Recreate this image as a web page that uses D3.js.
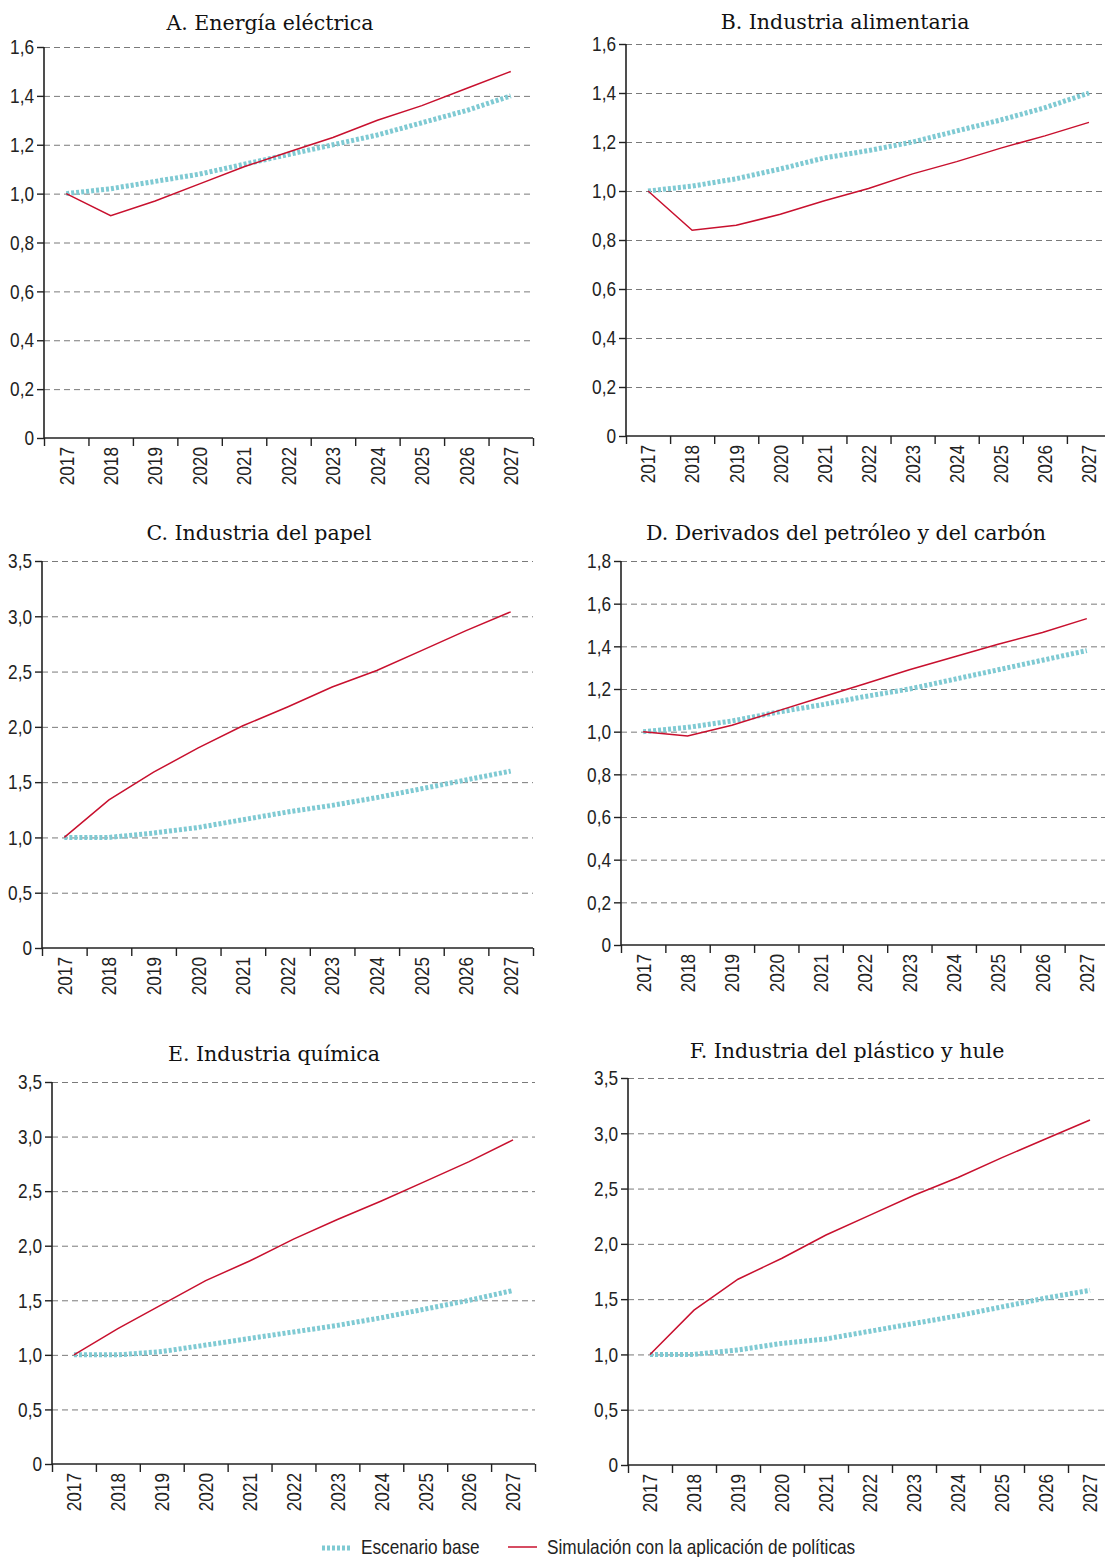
<!DOCTYPE html>
<html>
<head>
<meta charset="utf-8">
<script src="https://cdn.jsdelivr.net/npm/d3@7"></script>
<style>
  body { margin: 0; background: #fff; }
  .tick text { font-family: "Liberation Sans", Arial, sans-serif; font-size: 21px; fill: #222; }
  .title { font-family: "DejaVu Serif", serif; font-size: 20.5px; fill: #111; }
  .legend text { font-family: "Liberation Sans", Arial, sans-serif; font-size: 21px; fill: #222; }
</style>
</head>
<body>
<svg id="chart"></svg>
<script>
const WIDTH = 1105;
const HEIGHT = 1557;
const RED = "#c8102e";
const TEAL = "#7fcad3";
const NARROW = 0.82; // the reference uses a condensed sans

const years = ["2017", "2018", "2019", "2020", "2021", "2022", "2023", "2024", "2025", "2026", "2027"];

const titles = [
    "A. Energía eléctrica",
    "B. Industria alimentaria",
    "C. Industria del papel",
    "D. Derivados del petróleo y del carbón",
    "E. Industria química",
    "F. Industria del plástico y hule"
];

// escenario base
const baseA = [1.00, 1.02, 1.05, 1.08, 1.12, 1.16, 1.20, 1.24, 1.29, 1.34, 1.40];
const baseB = [1.00, 1.02, 1.05, 1.09, 1.135, 1.165, 1.20, 1.245, 1.29, 1.34, 1.40];
const baseC = [1.00, 1.00, 1.04, 1.09, 1.16, 1.23, 1.29, 1.36, 1.44, 1.52, 1.60];
const baseD = [1.00, 1.02, 1.05, 1.09, 1.125, 1.165, 1.20, 1.245, 1.29, 1.335, 1.38];
const baseE = [1.00, 1.00, 1.03, 1.09, 1.15, 1.21, 1.27, 1.34, 1.42, 1.50, 1.59];
const baseF = [1.00, 1.00, 1.04, 1.10, 1.14, 1.21, 1.28, 1.35, 1.43, 1.51, 1.58];

// simulacion con politicas
const simA = [1.00, 0.91, 0.97, 1.04, 1.11, 1.17, 1.23, 1.30, 1.36, 1.43, 1.50];
const simB = [1.00, 0.84, 0.86, 0.905, 0.96, 1.01, 1.07, 1.12, 1.175, 1.225, 1.28];
const simC = [1.00, 1.34, 1.59, 1.81, 2.01, 2.18, 2.36, 2.51, 2.69, 2.87, 3.04];
const simD = [1.00, 0.98, 1.03, 1.095, 1.16, 1.225, 1.29, 1.35, 1.41, 1.465, 1.53];
const simE = [1.00, 1.24, 1.46, 1.68, 1.86, 2.06, 2.24, 2.41, 2.59, 2.77, 2.97];
const simF = [1.00, 1.40, 1.68, 1.87, 2.08, 2.26, 2.44, 2.60, 2.78, 2.95, 3.12];

const yTicksSmall = [0, 0.2, 0.4, 0.6, 0.8, 1.0, 1.2, 1.4, 1.6];
const yTicksD = [0, 0.2, 0.4, 0.6, 0.8, 1.0, 1.2, 1.4, 1.6, 1.8];
const yTicksLarge = [0, 0.5, 1.0, 1.5, 2.0, 2.5, 3.0, 3.5];

const legendLabels = ["Escenario base", "Simulación con la aplicación de políticas"];

const panels = [
    { title: titles[0], base: baseA, sim: simA, ticks: yTicksSmall, x0: 44, x1: 533, top: 47, bottom: 438, tx: 270, ty: 30 },
    { title: titles[1], base: baseB, sim: simB, ticks: yTicksSmall, x0: 626, x1: 1111, top: 44, bottom: 436, tx: 845, ty: 29 },
    { title: titles[2], base: baseC, sim: simC, ticks: yTicksLarge, x0: 42, x1: 533, top: 561, bottom: 948, tx: 259, ty: 540 },
    { title: titles[3], base: baseD, sim: simD, ticks: yTicksD, x0: 621, x1: 1109, top: 561, bottom: 945, tx: 846, ty: 540 },
    { title: titles[4], base: baseE, sim: simE, ticks: yTicksLarge, x0: 52, x1: 535, top: 1082, bottom: 1464, tx: 274, ty: 1061 },
    { title: titles[5], base: baseF, sim: simF, ticks: yTicksLarge, x0: 628, x1: 1112, top: 1078, bottom: 1465, tx: 847, ty: 1058 }
];

const fmt = (d) => d === 0 ? "0" : d3.format(".1f")(d).replace(".", ",");

// squeeze text horizontally to imitate a condensed face
function condense(sel) {
    sel.each(function () {
        const w = this.getComputedTextLength();
        if (w > 0) {
            d3.select(this)
                .attr("textLength", w * NARROW)
                .attr("lengthAdjust", "spacingAndGlyphs");
        }
    });
}

const svg = d3.select("#chart")
    .attr("width", WIDTH)
    .attr("height", HEIGHT);

panels.forEach((p) => {
    const g = svg.append("g");

    const xScale = d3.scaleBand()
        .domain(years)
        .range([p.x0, p.x1])
        .padding(0);
    const xEdges = d3.scaleLinear()
        .domain([0, years.length])
        .range([p.x0, p.x1]);
    const yScale = d3.scaleLinear()
        .domain([0, d3.max(p.ticks)])
        .range([p.bottom, p.top]);

    // dashed grid
    g.append("g")
        .attr("transform", "translate(" + p.x0 + ",0)")
        .call(d3.axisLeft(yScale).tickValues(p.ticks.filter(d => d > 0)).tickSize(-(p.x1 - p.x0)).tickFormat(""))
        .call(s => s.select(".domain").remove())
        .call(s => s.selectAll("line").attr("stroke", "#7a7a7a").attr("stroke-dasharray", "6,4").attr("stroke-width", 1));

    // y axis
    g.append("g")
        .attr("transform", "translate(" + p.x0 + ",0)")
        .call(d3.axisLeft(yScale).tickValues(p.ticks).tickSize(7).tickPadding(3).tickFormat(fmt))
        .call(s => s.select(".domain").attr("d", "M0," + p.bottom + "V" + p.top).attr("stroke", "#222").attr("stroke-width", 1.6))
        .call(s => s.selectAll(".tick line").attr("stroke", "#222").attr("stroke-width", 1.4))
        .call(s => s.selectAll(".tick text").call(condense));

    // x axis: boundary ticks
    g.append("g")
        .attr("transform", "translate(0," + p.bottom + ")")
        .call(d3.axisBottom(xEdges).tickValues(d3.range(years.length + 1)).tickSize(8).tickFormat(""))
        .call(s => s.select(".domain").attr("d", "M" + p.x0 + ",0H" + p.x1).attr("stroke", "#222").attr("stroke-width", 1.6))
        .call(s => s.selectAll(".tick line").attr("stroke", "#222").attr("stroke-width", 1.4));

    // x axis: year labels
    g.append("g")
        .attr("transform", "translate(0," + p.bottom + ")")
        .call(d3.axisBottom(xScale).tickSize(0).tickPadding(0))
        .call(s => s.select(".domain").remove())
        .call(s => s.selectAll(".tick text")
            .attr("transform", "rotate(-90)")
            .attr("text-anchor", "end")
            .attr("x", -9)
            .attr("y", 0)
            .attr("dy", "0.35em")
            .call(condense));

    const line = d3.line()
        .x((d, i) => xScale(years[i]) + xScale.bandwidth() / 2)
        .y((d) => yScale(d));

    g.append("path")
        .datum(p.base)
        .attr("d", line)
        .attr("fill", "none")
        .attr("stroke", TEAL)
        .attr("stroke-width", 5)
        .attr("stroke-dasharray", "3,2");

    g.append("path")
        .datum(p.sim)
        .attr("d", line)
        .attr("fill", "none")
        .attr("stroke", RED)
        .attr("stroke-width", 1.5);

    g.append("text")
        .attr("class", "title")
        .attr("x", p.tx)
        .attr("y", p.ty)
        .attr("text-anchor", "middle")
        .text(p.title);
});

// legend
const legend = svg.append("g").attr("class", "legend");
legend.append("line")
    .attr("x1", 322).attr("x2", 350).attr("y1", 1548).attr("y2", 1548)
    .attr("stroke", TEAL).attr("stroke-width", 5).attr("stroke-dasharray", "3,2");
legend.append("text").attr("x", 361).attr("y", 1554).text(legendLabels[0]);
legend.append("line")
    .attr("x1", 508).attr("x2", 537).attr("y1", 1547).attr("y2", 1547)
    .attr("stroke", RED).attr("stroke-width", 1.5);
legend.append("text").attr("x", 547).attr("y", 1554).text(legendLabels[1]);
legend.selectAll("text").call(condense);
</script>
</body>
</html>
